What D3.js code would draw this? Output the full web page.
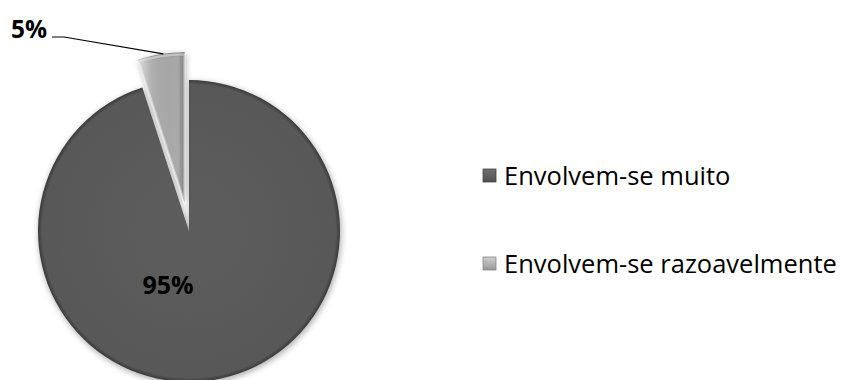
<!DOCTYPE html>
<html>
<head>
<meta charset="utf-8">
<script src="https://cdn.jsdelivr.net/npm/d3@7"></script>
<style>
  html, body { margin: 0; padding: 0; background: #fff; }
  svg { display: block; }
  text { font-family: "Open Sans", Lato, sans-serif; }
</style>
</head>
<body>
<script>
// Chart data
const categories = ["Envolvem-se muito", "Envolvem-se razoavelmente"];
const values = [95, 5];
const valueLabels = ["95%", "5%"];
const baseColors = ["#595959", "#a8a8a8"];
const rimColors = ["#3a3a3a", "#7d7d7d"];

const W = 843, H = 380;
const cx = 189, cy = 231, R = 151;
const explode = [0, 28];

const svg = d3.select("body").append("svg")
  .attr("width", W).attr("height", H);

const defs = svg.append("defs");

// soft drop shadow under the slices
const sh = defs.append("filter").attr("id", "shadow")
  .attr("x", "-20%").attr("y", "-20%").attr("width", "140%").attr("height", "140%");
sh.append("feDropShadow").attr("dx", 1).attr("dy", 2)
  .attr("stdDeviation", 3).attr("flood-color", "#000").attr("flood-opacity", 0.35);

// rim gradients give each slice a bevelled outer edge
baseColors.forEach((c, i) => {
  const g = defs.append("radialGradient").attr("id", "rim" + i)
    .attr("gradientUnits", "userSpaceOnUse")
    .attr("cx", 0).attr("cy", 0).attr("r", R);
  g.append("stop").attr("offset", "0%").attr("stop-color", d3.color(c).brighter(0.08));
  g.append("stop").attr("offset", "90%").attr("stop-color", c);
  g.append("stop").attr("offset", "97%").attr("stop-color", c);
  g.append("stop").attr("offset", "100%").attr("stop-color", rimColors[i]);
});

// light sheen on the smaller slice
const sheen = defs.append("linearGradient").attr("id", "sheen")
  .attr("x1", "0%").attr("y1", "0%").attr("x2", "100%").attr("y2", "0%");
sheen.append("stop").attr("offset", "0%").attr("stop-color", "#ffffff").attr("stop-opacity", 0.6);
sheen.append("stop").attr("offset", "30%").attr("stop-color", "#ffffff").attr("stop-opacity", 0.08);
sheen.append("stop").attr("offset", "85%").attr("stop-color", "#000000").attr("stop-opacity", 0.0);
sheen.append("stop").attr("offset", "100%").attr("stop-color", "#000000").attr("stop-opacity", 0.25);

const pie = d3.pie().sort(null).value(d => d).startAngle(0).endAngle(2 * Math.PI);
const arcs = pie(values);
const arc = d3.arc().innerRadius(0).outerRadius(R);

const g = svg.append("g").attr("transform", `translate(${cx},${cy})`);

function offsetOf(d, i) {
  const mid = (d.startAngle + d.endAngle) / 2;
  return [Math.sin(mid) * explode[i], -Math.cos(mid) * explode[i]];
}

const slices = g.selectAll("g.slice").data(arcs).join("g")
  .attr("class", "slice")
  .attr("transform", (d, i) => { const o = offsetOf(d, i); return `translate(${o[0]},${o[1]})`; });

slices.append("path")
  .attr("d", arc)
  .attr("fill", (d, i) => `url(#rim${i})`)
  .attr("filter", "url(#shadow)");

// bevel highlight along the edges of the small slice
slices.filter((d, i) => i === 1).append("path")
  .attr("d", arc)
  .attr("fill", "url(#sheen)");
slices.filter((d, i) => i === 1).append("path")
  .attr("d", d3.arc().innerRadius(0).outerRadius(R - 2)(arcs[1]))
  .attr("fill", "none")
  .attr("stroke", "#ffffff")
  .attr("stroke-opacity", 0.45)
  .attr("stroke-width", 2.5)
  .attr("stroke-linejoin", "round");

// 95% label inside the large slice
svg.append("text")
  .attr("x", cx - 21).attr("y", cy + 63)
  .attr("text-anchor", "middle")
  .attr("font-size", 25).attr("font-weight", "bold").attr("fill", "#000")
  .text(valueLabels[0]);

// 5% label with leader line to the exploded slice
const small = arcs[1];
const so = offsetOf(small, 1);
const tipAngle = small.startAngle + (small.endAngle - small.startAngle) * 0.55;
const tip = [cx + so[0] + Math.sin(tipAngle) * R, cy + so[1] - Math.cos(tipAngle) * R];
svg.append("polyline")
  .attr("points", `52,37 64,37 ${tip[0]},${tip[1]}`)
  .attr("fill", "none").attr("stroke", "#000").attr("stroke-width", 1.2);
svg.append("text")
  .attr("x", 11).attr("y", 38)
  .attr("font-size", 24.5).attr("font-weight", "bold").attr("fill", "#000")
  .text(valueLabels[1]);

// legend
const legendY = [176, 264];
const lg = svg.append("g");
categories.forEach((c, i) => {
  const grad = defs.append("linearGradient").attr("id", "lg" + i)
    .attr("x1", "0%").attr("y1", "0%").attr("x2", "0%").attr("y2", "100%");
  grad.append("stop").attr("offset", "0%").attr("stop-color", d3.color(baseColors[i]).brighter(0.6));
  grad.append("stop").attr("offset", "100%").attr("stop-color", d3.color(baseColors[i]).darker(0.3));
  lg.append("rect")
    .attr("x", 483).attr("y", legendY[i] - 7).attr("width", 13).attr("height", 13)
    .attr("fill", `url(#lg${i})`).attr("stroke", d3.color(baseColors[i]).darker(0.6)).attr("stroke-width", 0.8);
  lg.append("text")
    .attr("x", 504).attr("y", legendY[i] + 9)
    .attr("font-size", 25.5).attr("fill", "#000")
    .text(c);
});
</script>
</body>
</html>
